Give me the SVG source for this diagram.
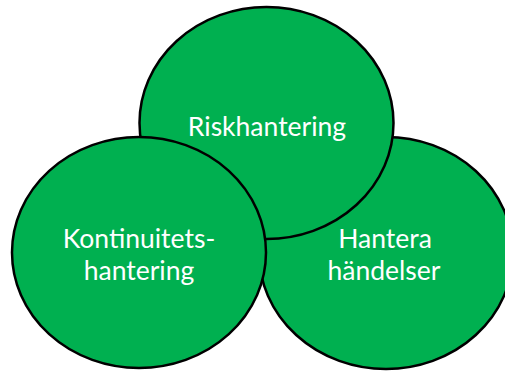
<svg xmlns="http://www.w3.org/2000/svg" width="505" height="371" viewBox="0 0 505 371">
<style>
.c{fill:#00B050;stroke:#000;stroke-width:2.5}
.t{fill:#fff;font-family:Lato,"Open Sans",sans-serif;font-size:26.5px;text-anchor:middle}
</style>
<rect width="505" height="371" fill="#fff"/>
<g id="handelser">
<ellipse class="c" cx="386" cy="253" rx="127" ry="116"/>
<text class="t" x="385" y="248">Hantera</text>
<text class="t" x="384" y="280">händelser</text>
</g>
<g id="riskhantering">
<ellipse class="c" cx="266.5" cy="123" rx="127" ry="116"/>
<text class="t" x="267" y="136">Riskhantering</text>
</g>
<g id="kontinuitet">
<ellipse class="c" cx="139" cy="252.5" rx="127" ry="115.5"/>
<text class="t" x="139" y="248">Kontinuitets-</text>
<text class="t" x="139" y="280">hantering</text>
</g>
<g id="connectors"/>
</svg>
